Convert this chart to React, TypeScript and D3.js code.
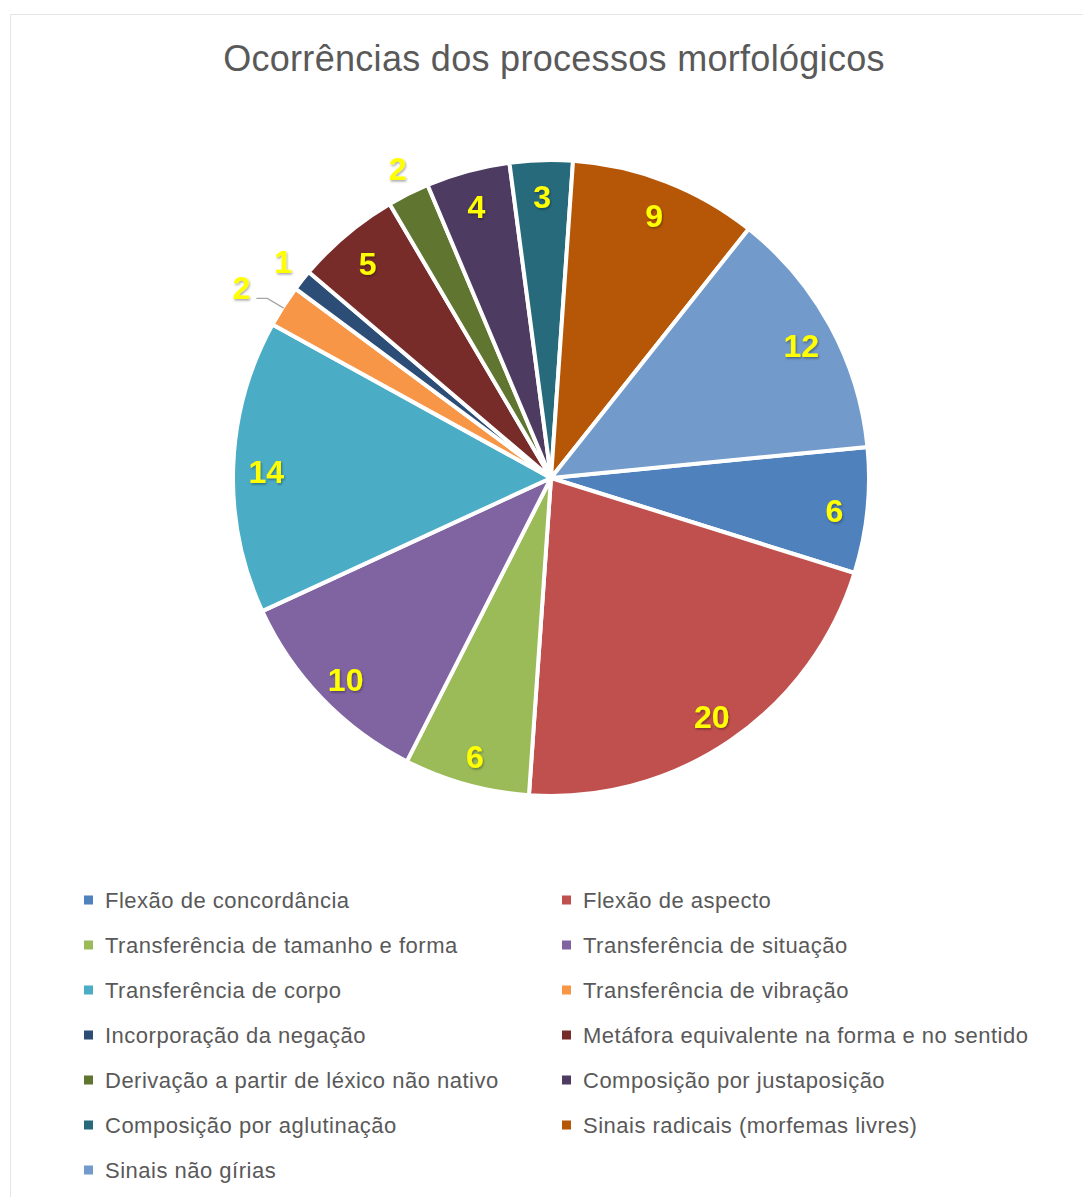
import React from "react";
import * as d3 from "d3";

const categories = [
  "Flexão de concordância",
  "Flexão de aspecto",
  "Transferência de tamanho e forma",
  "Transferência de situação",
  "Transferência de corpo",
  "Transferência de vibração",
  "Incorporação da negação",
  "Metáfora equivalente na forma e no sentido",
  "Derivação a partir de léxico não nativo",
  "Composição por justaposição",
  "Composição por aglutinação",
  "Sinais radicais (morfemas livres)",
  "Sinais não gírias",
];
const values = [6, 20, 6, 10, 14, 2, 1, 5, 2, 4, 3, 9, 12];
const colors = [
  "#4F81BD", "#C0504D", "#9BBB59", "#8064A2", "#4BACC6", "#F79646",
  "#2C4D75", "#772C2A", "#5F7530", "#4D3B62", "#276A7C", "#B65708", "#729ACA",
];
const title = "Ocorrências dos processos morfológicos";

const W = 1083;
const H = 1197;
const cx = 551;
const cy = 478;
const R = 318;
const startDeg = 84.4;

export default function App() {
  const data = categories.map((c, i) => ({ c, v: values[i], color: colors[i], i }));
  const total = d3.sum(values);
  const pie = d3
    .pie<any>()
    .value((d) => d.v)
    .sort(null)
    .startAngle((startDeg * Math.PI) / 180)
    .endAngle((startDeg * Math.PI) / 180 + 2 * Math.PI);
  const arcs = pie(data);
  const arcGen = d3.arc<any>().innerRadius(0).outerRadius(R);
  const isOut = (v: number) => v / total < 0.025;

  const pt = (a: number, r: number) => [cx + r * Math.sin(a), cy - r * Math.cos(a)];

  const rowY = d3.scaleLinear().domain([0, 1]).range([900, 945]);
  const colX = [88, 566];

  return (
    <svg width={W} height={H} style={{ position: "absolute", left: 0, top: 0 }}
      fontFamily="'Liberation Sans', Arial, sans-serif">
      <defs>
        <filter id="sh" x="-20%" y="-20%" width="140%" height="140%">
          <feDropShadow dx="1" dy="1.5" stdDeviation="1.2" floodColor="#000" floodOpacity="0.35" />
        </filter>
      </defs>
      <rect x={0} y={0} width={W} height={H} fill="#fff" />
      <rect x={10.5} y={14.5} width={W + 20} height={H + 20} fill="#fff" stroke="#E6E6E6" strokeWidth={1} />
      <text x={554} y={71} textAnchor="middle" fontSize={36} letterSpacing={0.3} fill="#595959">
        {title}
      </text>
      <g>
        {arcs.map((a) => (
          <path key={a.index} d={arcGen(a) as string} transform={`translate(${cx},${cy})`}
            fill={a.data.color} stroke="#fff" strokeWidth={4} strokeLinejoin="round" />
        ))}
      </g>
      <g>
        {arcs.map((a, k) => {
          const mid = (a.startAngle + a.endAngle) / 2;
          const out = isOut(a.data.v);
          const next = arcs[(k + 1) % arcs.length];
          const pushed = out && isOut(next.data.v);
          const r = !out ? 285 : pushed ? 362 : 342;
          const [x0, y0] = pt(mid, r);
          const x = pushed ? x0 - 5 : x0;
          const y = !out ? y0 + 4 : pushed ? y0 + 6 : y0 - 3;
          let leader = null;
          if (pushed) {
            const [ex, ey] = pt(mid, R + 2);
            leader = (
              <polyline points={`${x + 15},${y + 10} ${x + 26},${y + 10} ${ex + 2},${ey + 3}`}
                fill="none" stroke="#A6A6A6" strokeWidth={1.3} />
            );
          }
          return (
            <g key={k}>
              {leader}
              <text x={x} y={y} textAnchor="middle" dominantBaseline="central" fontSize={32}
                fontWeight="bold" fill="#FFFF00" filter="url(#sh)">
                {a.data.v}
              </text>
            </g>
          );
        })}
      </g>
      <g>
        {data.map((d, i) => {
          const col = i % 2;
          const row = Math.floor(i / 2);
          const y = rowY(row);
          return (
            <g key={i}>
              <rect x={colX[col] - 4} y={y - 4.5} width={9} height={9} fill={d.color} />
              <text x={colX[col] + 17} y={y} dominantBaseline="central" fontSize={22}
                letterSpacing={0.5} fill="#595959">
                {d.c}
              </text>
            </g>
          );
        })}
      </g>
    </svg>
  );
}
